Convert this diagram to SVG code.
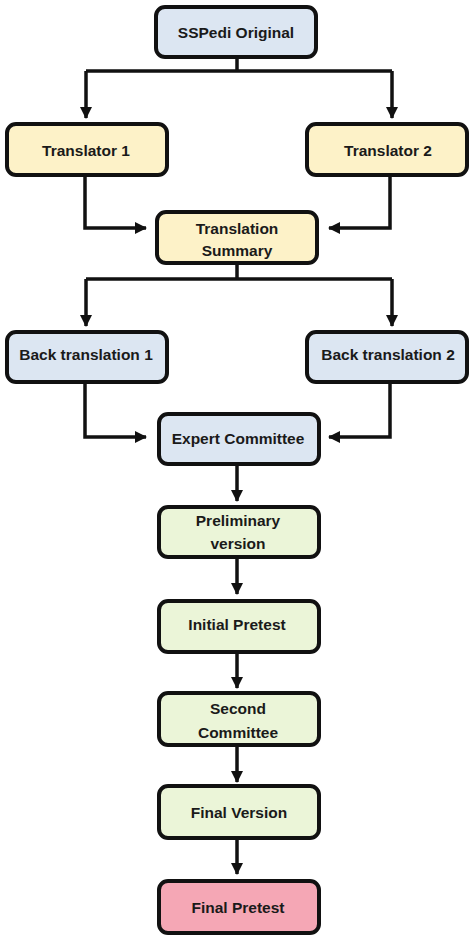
<svg xmlns="http://www.w3.org/2000/svg" width="474" height="939" viewBox="0 0 474 939">
<defs>
<marker id="ah" viewBox="0 0 12 12" refX="11" refY="6" markerWidth="12" markerHeight="12" markerUnits="userSpaceOnUse" orient="auto">
<path d="M0,0 L12,6 L0,12 Z" fill="#111"/>
</marker>
<style>
.box{stroke:#111;stroke-width:4}
.blue{fill:#dce6f2}
.yellow{fill:#fdf2c8}
.green{fill:#ebf5d8}
.pink{fill:#f5a7b5}
text{font-family:"Liberation Sans",Arial,sans-serif;font-weight:bold;font-size:15.5px;fill:#1a1a1a;text-anchor:middle;dominant-baseline:central}
.c{fill:none;stroke:#111;stroke-width:3.5}
</style>
</defs>
<rect width="474" height="939" fill="#fff"/>
<g id="connectors">
<path class="c" d="M237,57 V71 M86,71 H392"/>
<path class="c" d="M86,71 V118" marker-end="url(#ah)"/>
<path class="c" d="M392,71 V118" marker-end="url(#ah)"/>
<path class="c" d="M85,175 V228 H146" marker-end="url(#ah)"/>
<path class="c" d="M390,175 V228 H329" marker-end="url(#ah)"/>
<path class="c" d="M237,263 V279 M86,279 H392"/>
<path class="c" d="M86,279 V326" marker-end="url(#ah)"/>
<path class="c" d="M392,279 V326" marker-end="url(#ah)"/>
<path class="c" d="M85,382 V437 H146" marker-end="url(#ah)"/>
<path class="c" d="M390,382 V437 H329" marker-end="url(#ah)"/>
<path class="c" d="M237,464 V501" marker-end="url(#ah)"/>
<path class="c" d="M237,557 V594" marker-end="url(#ah)"/>
<path class="c" d="M237,652 V688" marker-end="url(#ah)"/>
<path class="c" d="M237,745 V782" marker-end="url(#ah)"/>
<path class="c" d="M237,838 V874" marker-end="url(#ah)"/>
</g>
<g id="n-sspedi"><rect class="box blue" x="156" y="7" width="160" height="50" rx="9"/><text x="236" y="32">SSPedi Original</text></g>
<g id="n-translator1"><rect class="box yellow" x="7" y="124" width="160" height="51" rx="9"/><text x="86" y="150">Translator 1</text></g>
<g id="n-translator2"><rect class="box yellow" x="307" y="124" width="160" height="51" rx="9"/><text x="388" y="150">Translator 2</text></g>
<g id="n-summary"><rect class="box yellow" x="157" y="212" width="160" height="51" rx="9"/><text x="237" y="228">Translation</text><text x="237" y="250">Summary</text></g>
<g id="n-back1"><rect class="box blue" x="7" y="332" width="160" height="50" rx="9"/><text x="86" y="354">Back translation 1</text></g>
<g id="n-back2"><rect class="box blue" x="307" y="332" width="160" height="50" rx="9"/><text x="388" y="354">Back translation 2</text></g>
<g id="n-expert"><rect class="box blue" x="159" y="414" width="160" height="50" rx="9"/><text x="238" y="438">Expert Committee</text></g>
<g id="n-preliminary"><rect class="box green" x="159" y="507" width="160" height="50" rx="9"/><text x="238" y="520">Preliminary</text><text x="238" y="543">version</text></g>
<g id="n-initial"><rect class="box green" x="159" y="601" width="160" height="51" rx="9"/><text x="237" y="624">Initial Pretest</text></g>
<g id="n-second"><rect class="box green" x="159" y="693" width="160" height="52" rx="9"/><text x="238" y="708">Second</text><text x="238" y="732">Committee</text></g>
<g id="n-finalversion"><rect class="box green" x="159" y="786" width="160" height="52" rx="9"/><text x="239" y="812">Final Version</text></g>
<g id="n-finalpretest"><rect class="box pink" x="159" y="881" width="160" height="52" rx="9"/><text x="238" y="907">Final Pretest</text></g>
</svg>
